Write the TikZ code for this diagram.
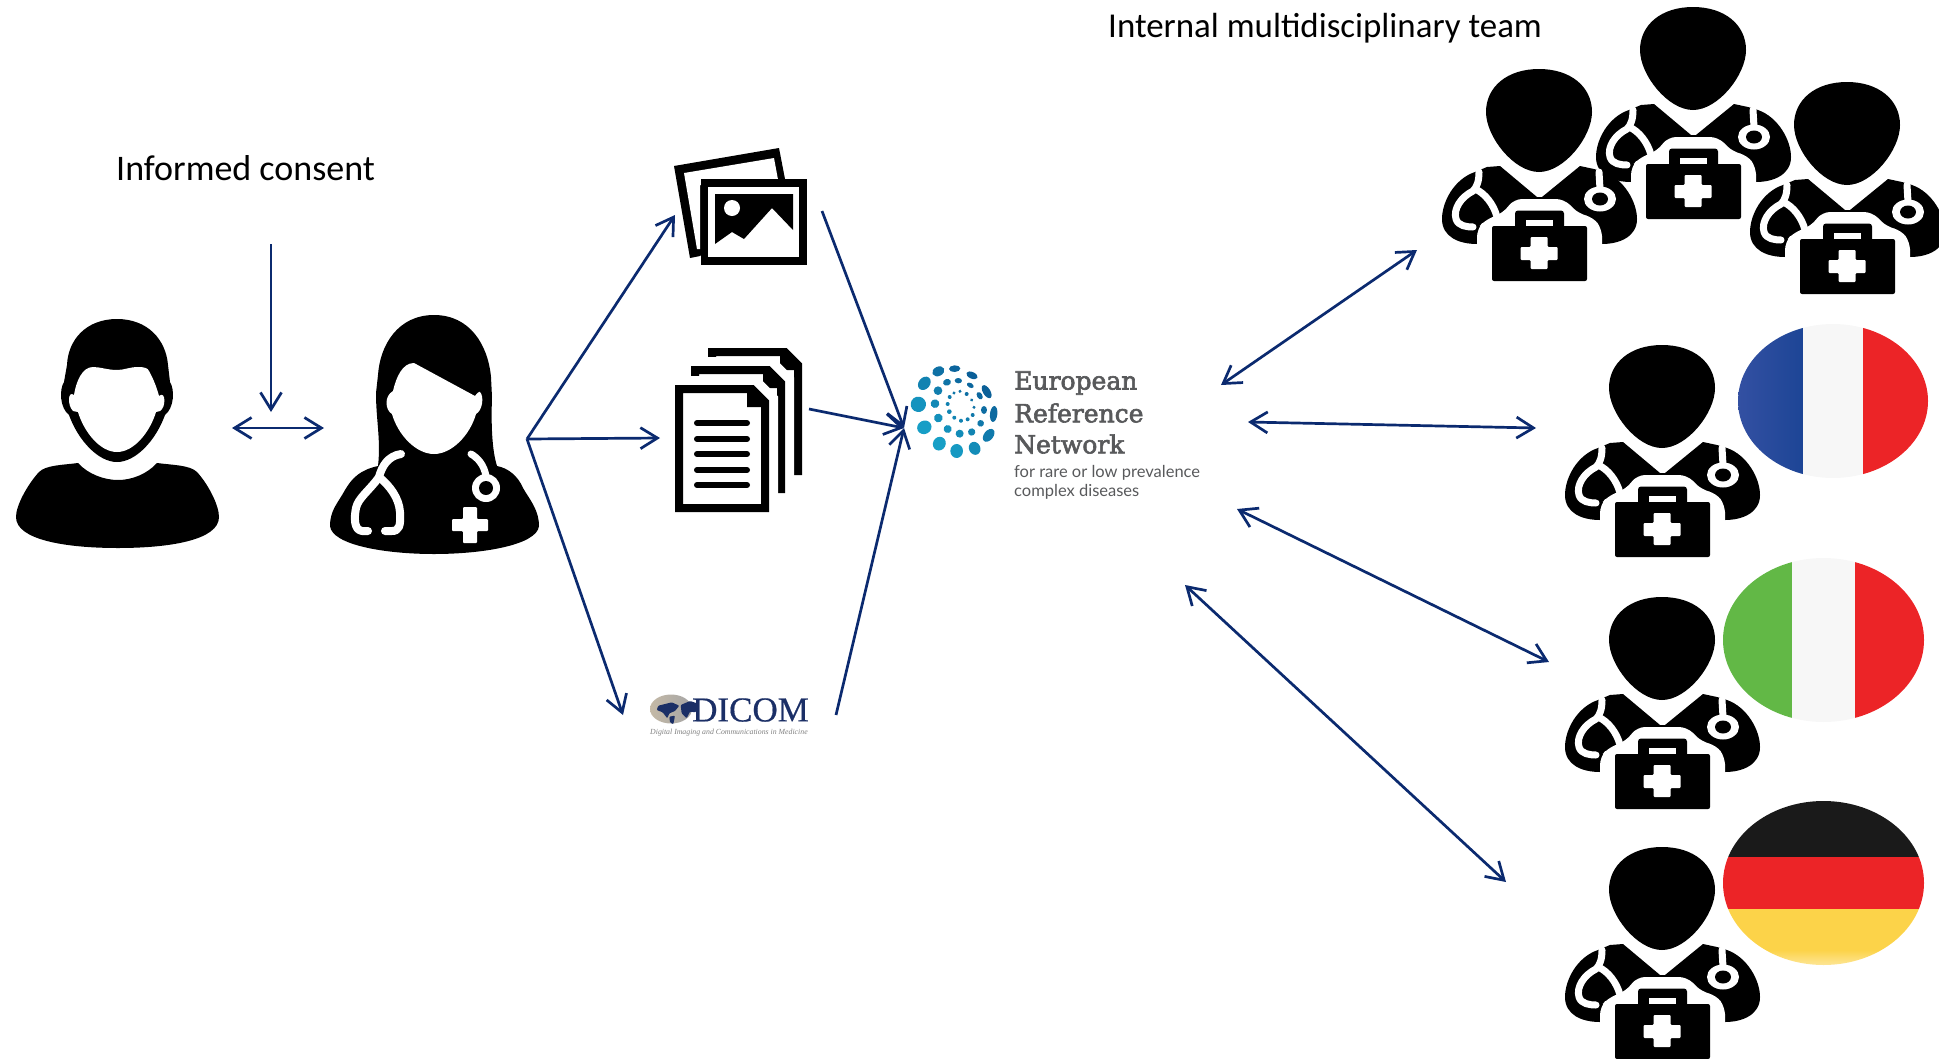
\documentclass[tikz,border=0pt]{standalone}
\usepackage{fontspec}
\usepackage{xcolor}
\usepackage{tikz}
\usetikzlibrary{arrows.meta}
\setmainfont{Carlito}
\newfontfamily\ernfont[FakeBold=2.5]{DejaVu Serif}
\newfontfamily\ernsub{Lato}
\newfontfamily\dicomfont[FakeBold=0.4]{Liberation Serif}
\newfontfamily\dicomsubfont{Liberation Serif}
\definecolor{linkblue}{HTML}{0B2A6F}
\definecolor{frblue}{HTML}{1D4596}
\definecolor{frblueleft}{HTML}{3350A2}
\definecolor{flagred}{HTML}{EC2427}
\definecolor{flagwhite}{HTML}{F7F7F7}
\definecolor{itgreen}{HTML}{62B846}
\definecolor{deblack}{HTML}{1A1A1A}
\definecolor{deyellow}{HTML}{FCD349}
\definecolor{erndark}{HTML}{0B5F98}
\definecolor{ernlight}{HTML}{179FC6}
\definecolor{erngrey}{HTML}{58595B}
\definecolor{dicomblue}{HTML}{1B2F66}
\definecolor{dicomtan}{HTML}{C4B9A6}
\tikzset{
  link/.style={draw=linkblue, line width=2.7pt, arrows={-Straight Barb[length=17pt,width=21pt]}},
  linkboth/.style={link, arrows={Straight Barb[length=17pt,width=21pt]-Straight Barb[length=17pt,width=21pt]}},
  caption/.style={inner sep=0pt, anchor=west},
  ernline/.style={inner sep=0pt, anchor=west, text=erngrey},
  stetho/.style={white, line width=7pt, line cap=round, line join=round},
  docpage/.pic={
    \draw[white, line width=18pt, line join=miter, fill=white]
      (0,0) -- (79,0) -- (94,15) -- (94,127) -- (0,127) -- cycle;
    \draw[black, line width=8pt, line join=miter, fill=white]
      (4,4) -- (77,4) -- (90,17) -- (90,123) -- (4,123) -- cycle;
    \fill[black] (72,4) -- (90,22) -- (72,22) -- cycle;
  },
  medic/.pic={
    % head
    \fill[black] (0,-48) .. controls (32,-48) and (53,-30) .. (53,-5)
      .. controls (53,20) and (25,55) .. (0,55)
      .. controls (-25,55) and (-53,20) .. (-53,-5)
      .. controls (-53,-30) and (-32,-48) .. (0,-48);
    % body
    \fill[black] (-39,49) -- (-2,80) -- (3,80) -- (41,49) -- (55,52) -- (65,55)
      .. controls (85,62) and (98,85) .. (98,102)
      .. controls (98,120) and (80,127) .. (63,127) -- (-62,127)
      .. controls (-80,127) and (-97,120) .. (-97,102)
      .. controls (-97,85) and (-85,62) .. (-64,55) -- (-52,50) -- cycle;
    % stethoscope
    \draw[stetho] (-60,55) .. controls (-60,64) and (-62,70) .. (-66,74)
      .. controls (-78,80) and (-86,92) .. (-83,102) .. controls (-81,109) and (-72,110) .. (-66,110);
    \draw[stetho] (-64,72) .. controls (-54,76) and (-45,88) .. (-42,100);
    \draw[stetho] (60,55) -- (61,72);
    \fill[white] (61,82) ellipse (16 and 12.5);
    \fill[black] (61,82) ellipse (8 and 6.5);
    % case
    \fill[white, rounded corners=8pt] (-62,127) -- (-62,112) -- (-54,103) -- (-36,96) -- (-25,82)
      -- (25,82) -- (40,97) -- (54,100) -- (63,112) -- (63,127) -- (63,172) -- (-62,172) -- cycle;
    \fill[black, rounded corners=3pt] (-24,93.5) rectangle (25,115);
    \fill[white] (-13,103) rectangle (14,109);
    \fill[black, rounded corners=2pt] (-47,109) rectangle (48,164);
    \fill[white, rounded corners=1pt] (-8.5,120) -- (8.5,120) -- (8.5,130) -- (18.5,130) -- (18.5,143)
      -- (8.5,143) -- (8.5,152) -- (-8.5,152) -- (-8.5,143) -- (-18.5,143) -- (-18.5,130) -- (-8.5,130) -- cycle;
  }
}
\begin{document}
\begin{tikzpicture}[x=1pt,y=-1pt]
\useasboundingbox (0,0) rectangle (1939,1058);
% patient
\fill[black] (78,463) .. controls (88,474) and (104,480) .. (118,480)
  .. controls (132,480) and (147,474) .. (157,463)
  .. controls (172,465) and (190,465) .. (197,472)
  .. controls (208,484) and (219,505) .. (219,517)
  .. controls (219,540) and (170,548) .. (118,548)
  .. controls (66,548) and (16,540) .. (16,517)
  .. controls (16,505) and (28,484) .. (39,472)
  .. controls (46,465) and (63,465) .. (78,463) -- cycle;
\fill[black] (117,319) .. controls (86,319) and (68,340) .. (67,365) -- (64,382)
  .. controls (59,390) and (60,408) .. (69,415)
  .. controls (78,440) and (98,462) .. (117,462)
  .. controls (136,462) and (156,440) .. (165,415)
  .. controls (174,408) and (175,390) .. (170,382) -- (168,365)
  .. controls (166,340) and (148,319) .. (117,319);
\fill[white] (74,395) .. controls (76,382) and (82,367) .. (93,367)
  .. controls (100,367) and (108,370) .. (117,370)
  .. controls (124,370) and (130,367) .. (138,367)
  .. controls (144,367) and (148,368) .. (149,371)
  .. controls (153,378) and (157,388) .. (159,396)
  .. controls (166,390) and (166,408) .. (160,411) -- (156,412)
  .. controls (150,432) and (134,452) .. (117,452)
  .. controls (100,452) and (84,432) .. (78,412) -- (73,411)
  .. controls (67,405) and (68,390) .. (74,395) -- cycle;
% doctor
\fill[black] (434,315) .. controls (398,315) and (380,345) .. (378,375)
  -- (376,393) .. controls (376,420) and (381,440) .. (378,466)
  .. controls (360,470) and (352,478) .. (345,490)
  .. controls (338,503) and (330,510) .. (330,526)
  .. controls (332,545) and (385,554) .. (434,554)
  .. controls (483,554) and (537,545) .. (539,526)
  .. controls (539,510) and (530,500) .. (523,488)
  .. controls (518,476) and (508,468) .. (497,466)
  .. controls (492,450) and (491,425) .. (492,397)
  -- (491,377) .. controls (488,345) and (470,315) .. (434,315) -- cycle;
\fill[white] (393,391) .. controls (396,378) and (402,363) .. (414,363)
  -- (475,396) .. controls (477,393) and (480,391) .. (480,392)
  .. controls (484,396) and (483,410) .. (476,414)
  .. controls (470,435) and (452,454) .. (434,454)
  .. controls (416,454) and (398,435) .. (392,414)
  .. controls (385,410) and (384,396) .. (393,391) -- cycle;
\draw[white, line width=8pt, line cap=round, line join=round]
  (401,454) .. controls (388,456) and (382,466) .. (379,477)
  .. controls (370,490) and (358,498) .. (356,508)
  .. controls (354,518) and (354,530) .. (362,531) -- (368,531);
\draw[white, line width=8pt, line cap=round, line join=round]
  (379,477) .. controls (390,486) and (399,498) .. (400,512)
  .. controls (401,526) and (399,531) .. (392,531) -- (385,531);
\draw[white, line width=7pt, line cap=round] (471,454)
  .. controls (478,458) and (484,465) .. (486,476);
\fill[white] (486,488) ellipse (14 and 14);
\fill[black] (486,488) ellipse (7 and 7);
\fill[white, rounded corners=1pt] (463,507) -- (477,507) -- (477,519) -- (488,519) -- (488,531)
  -- (477,531) -- (477,543) -- (463,543) -- (463,531) -- (452,531) -- (452,519) -- (463,519) -- cycle;
% photos
\fill[black] (674,166) -- (779,148) -- (785,179) -- (700,256) -- (690,258) -- cycle;
\fill[white] (684,173) -- (774,158) -- (779,185) -- (700,185) -- (700,249) -- (697,249) -- cycle;
\fill[black] (700.5,179) rectangle (807,265);
\fill[white] (708,187) rectangle (799,256.5);
\fill[black] (715,194) -- (793,194) -- (793,230) -- (772,208) -- (744,239) -- (732,232) -- (715,244) -- cycle;
\fill[white] (732,208) circle (8);
% documents
\pic at (708,348) {docpage};
\pic at (691,366) {docpage};
\pic at (675,385) {docpage};
\foreach \y in {423,439,454,470,485}
  \draw[black, line width=6pt, line cap=round] (697,\y) -- (747,\y);
% dicom
\shade[left color=dicomtan, right color=gray!70] (671,709) ellipse (21 and 14.5);
\begin{scope}[shift={(640,685)},x=0.3333pt,y=-0.3333pt]
\fill[dicomblue, rounded corners=1pt] (55,62) -- (95,52) -- (118,62) -- (105,78) -- (88,85) -- (82,100) -- (68,82) -- (50,75) -- cycle;
\fill[dicomblue, rounded corners=1pt] (122,60) -- (150,48) -- (172,55) -- (168,82) -- (150,80) -- (140,100) -- (125,85) -- cycle;
\fill[dicomblue, rounded corners=1pt] (88,95) -- (105,92) -- (100,118) -- (90,112) -- cycle;
\end{scope}
\node[inner sep=0pt, anchor=west, text=dicomblue, font=\dicomfont\fontsize{35}{35}\selectfont] (dicomname) at (692,710) {DICOM};
\node[inner sep=0pt, anchor=west, text=gray, font=\dicomsubfont\itshape\fontsize{7.8}{8}\selectfont] (dicomsub) at (650,733) {Digital Imaging and Communications in Medicine};
% ern logo
\begin{scope}[shift={(860,350)},x=0.3333pt,y=-0.3333pt]
\foreach \px/\py/\prad/\ptan in {175/163/23/23,193/232/22/20,238/281/21/19,290/303/21/19,344/295/20/17,386/256/14/22,401/192/11/24,380/125/11/22,336/76/10/18,284/56/10/17,235/64/14/19,193/100/17/22,
  225/161/13/13,235/204/13/13,263/237/12/12,299/251/12/12,335/246/11/11,362/220/10/10,372/180/9/12,359/137/8/12,331/106/7/11,295/92/8/11,261/97/10/12,234/122/13/13,
  268/185/7/7,263/162/6/6,269/141/6/6,282/129/5/5,300/124/5/5,320/132/6/6,335/150/5/5,342/172/5/5,338/195/6/6,323/208/6/6,303/212/6/6,283/203/6/6}{
  \pgfmathtruncatemacro{\mixval}{max(0,min(100,100-(\px-\py+40)/3))}
  \pgfmathsetmacro{\pang}{atan2(180-\py,\px-290)}
  \fill[ernlight!\mixval!erndark, rotate around={\pang:(\px,\py)}] (\px,\py) ellipse ({\prad} and {\ptan});
}
\end{scope}
\node[ernline, font=\ernfont\fontsize{25}{25}\selectfont] (erneuropean) at (1014,383) {European};
\node[ernline, font=\ernfont\fontsize{25}{25}\selectfont] (ernreference) at (1014,413) {Reference};
\node[ernline, font=\ernfont\fontsize{25}{25}\selectfont] (ernnetwork) at (1014,444) {Network};
\node[ernline, font=\ernsub\fontsize{16.5}{17}\selectfont] (ernrare) at (1014,473) {for rare or low prevalence};
\node[ernline, font=\ernsub\fontsize{16.5}{17}\selectfont] (erncomplex) at (1014,492) {complex diseases};
% team
\pic at (1693,55) {medic};
\pic at (1539,117) {medic};
\pic at (1847,130) {medic};
\pic at (1662,393) {medic};
\pic at (1662,645) {medic};
\pic at (1662,895) {medic};
% flags
\begin{scope}
\clip (1833,401) ellipse (95 and 77);
\shade[left color=frblueleft, right color=frblue] (1738,320) rectangle (1803,480);
\fill[flagwhite] (1803,320) rectangle (1863,480);
\fill[flagred] (1863,320) rectangle (1930,480);
\end{scope}
\begin{scope}
\clip (1823.5,640) ellipse (100.5 and 82);
\fill[itgreen] (1720,550) rectangle (1792,730);
\fill[flagwhite] (1792,550) rectangle (1855,730);
\fill[flagred] (1855,550) rectangle (1930,730);
\end{scope}
\begin{scope}
\clip (1823.5,883) ellipse (100.5 and 82);
\fill[deblack] (1720,800) rectangle (1930,857);
\fill[flagred] (1720,857) rectangle (1930,909);
\fill[deyellow] (1720,909) rectangle (1930,950);
\shade[top color=deyellow, bottom color=deyellow!55] (1720,950) rectangle (1930,966);
\end{scope}
% captions
\node[caption, font=\fontsize{36}{40}\selectfont] (consent) at (116,168) {Informed consent};
\node[caption, font=\fontsize{34.9}{40}\selectfont] (mdt) at (1108,28) {Internal multidisciplinary team};
% connectors
\coordinate (consentstart) at (271,244);
\coordinate (consentend) at (271,412);
\coordinate (patientside) at (232,428);
\coordinate (doctorside) at (324,428);
\coordinate (fork) at (527,439);
\coordinate (photosin) at (675,215);
\coordinate (docsin) at (660,438);
\coordinate (dicomin) at (623,715);
\coordinate (photosout) at (822,211);
\coordinate (docsout) at (809,409);
\coordinate (dicomout) at (836,715);
\coordinate (ernin) at (904,428);
\draw[link] (consentstart) -- (consentend);
\draw[linkboth] (patientside) -- (doctorside);
\draw[link] (fork) -- (photosin);
\draw[link] (fork) -- (docsin);
\draw[link] (fork) -- (dicomin);
\draw[link] (photosout) -- (ernin);
\draw[link] (docsout) -- (ernin);
\draw[link] (dicomout) -- (ernin);
\coordinate (erna) at (1221,385);
\coordinate (teama) at (1417,250);
\coordinate (ernb) at (1248,422);
\coordinate (teamb) at (1536,428);
\coordinate (ernc) at (1237,509);
\coordinate (teamc) at (1549,662);
\coordinate (ernd) at (1185,585);
\coordinate (teamd) at (1506,882);
\draw[linkboth] (erna) -- (teama);
\draw[linkboth] (ernb) -- (teamb);
\draw[linkboth] (ernc) -- (teamc);
\draw[linkboth] (ernd) -- (teamd);
\end{tikzpicture}
\end{document}
